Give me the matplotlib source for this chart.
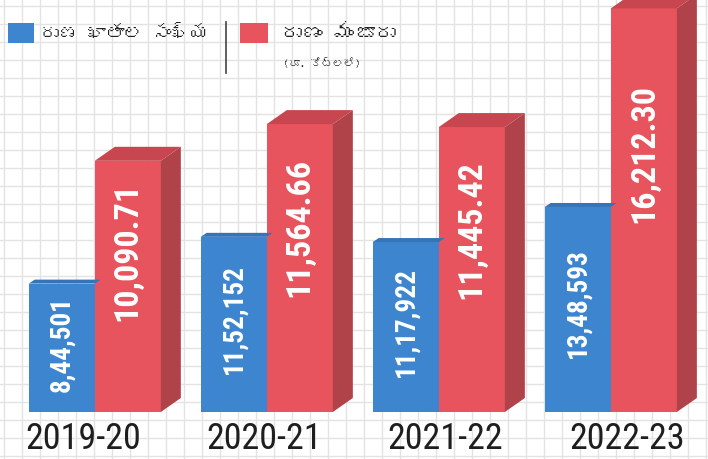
import matplotlib
matplotlib.use("Agg")
import matplotlib.pyplot as plt
from matplotlib import font_manager
from matplotlib.font_manager import FontProperties
from matplotlib.ft2font import FT2Font
from matplotlib.patches import Polygon, Rectangle
import numpy as np

# ---- data ----
years = ["2019-20", "2020-21", "2021-22", "2022-23"]
accounts = [844501, 1152152, 1117922, 1348593]
accounts_labels = ["8,44,501", "11,52,152", "11,17,922", "13,48,593"]
loans = [10090.71, 11564.66, 11445.42, 16212.30]
loans_labels = ["10,090.71", "11,564.66", "11,445.42", "16,212.30"]
legend_accounts = "రుణ ఖాతాల సంఖ్య"
legend_loans = "రుణం మంజూరు"
legend_loans_unit = "(రూ. కోట్లలో)"

# ---- fonts ----
def find_font(codepoint):
    for f in font_manager.fontManager.ttflist:
        try:
            if codepoint in FT2Font(f.fname).get_charmap():
                return f.name
        except Exception:
            pass
    return None

telugu = find_font(0x0C30)
tel_family = [telugu, "DejaVu Sans"] if telugu else ["DejaVu Sans"]

def find_condensed(bold):
    cands = []
    for f in font_manager.fontManager.ttflist:
        fn = f.fname.lower()
        if ("narrow" in fn or "condensed" in fn or f.stretch in ("condensed", "semi-condensed")) \
                and "italic" not in fn and "oblique" not in fn:
            isbold = "bold" in fn or (isinstance(f.weight, int) and f.weight >= 600) or f.weight == "bold"
            if isbold == bold and "semibold" not in fn and "light" not in fn and "extra" not in fn:
                rank = 0 if "liberation" in fn else (1 if "roboto" in fn else (2 if "dejavusans" in fn else 3))
                cands.append((rank, f.fname))
    cands.sort()
    return FontProperties(fname=cands[0][1]) if cands else None

fp_reg = find_condensed(False) or FontProperties(family="Liberation Sans")
fp_bold = find_condensed(True) or FontProperties(family="Liberation Sans", weight="bold")

BLUE = "#3d86cf"
BLUE_TOP = "#3574b8"
RED = "#e8545e"
RED_TOP = "#c8464f"
RED_SIDE = "#b0424a"

W, H, DPI = 708, 459, 100
fig = plt.figure(figsize=(W / DPI, H / DPI), dpi=DPI)
fig.patch.set_facecolor("white")

# grid-paper background
bg = fig.add_axes([0, 0, 1, 1], zorder=0)
bg.set_xlim(0, W)
bg.set_ylim(H, 0)
bg.set_xticks(np.arange(4, W, 18))
bg.set_yticks(np.arange(6, H, 18))
bg.grid(True, color="#e3e3e3", linewidth=1.0)
bg.tick_params(length=0, labelbottom=False, labelleft=False)
for s in bg.spines.values():
    s.set_visible(False)

# main axes: blue bars on left scale, red bars on twin scale
ax = fig.add_axes([0, 1 - 412 / H, 1, 412 / H], zorder=2)
ax.patch.set_alpha(0)
ax2 = ax.twinx()
ax2.patch.set_alpha(0)
for a in (ax, ax2):
    a.set_xlim(-0.551, 3.565)
    a.axis("off")
ax.set_ylim(0, 2.71e6)
ax2.set_ylim(0, 16550)

x = np.arange(len(years))
w = 0.384

ax.bar(x - w / 2, accounts, width=w, color=BLUE, zorder=2)
ax2.bar(x + w / 2, loans, width=w, color=RED, zorder=3)

# pseudo-3D faces
def faces(a, xs, vals, dx, dy, top_col, side_col, z):
    t = a.transData
    for xi, v in zip(xs, vals):
        x0, x1 = xi - w / 2, xi + w / 2
        p = np.array([t.transform((x0, v)), t.transform((x1, v))])
        back = p + np.array([dx, dy])
        fig.add_artist(Polygon(np.vstack([p[0], p[1], back[1], back[0]]), closed=True,
                               transform=None, facecolor=top_col, edgecolor="none", zorder=z))
        if side_col:
            b = t.transform((x1, 0))
            fig.add_artist(Polygon([p[1], b, b + [dx, dy], back[1]], closed=True,
                                   transform=None, facecolor=side_col, edgecolor="none", zorder=z))

fig.canvas.draw()
faces(ax, x - w / 2, accounts, 6, 4, BLUE_TOP, None, 3)
faces(ax2, x + w / 2, loans, 20, 14, RED_TOP, RED_SIDE, 4)

# value labels
for xi, v, lab in zip(x, accounts, accounts_labels):
    ax.text(xi - w / 2, v * 0.53, lab, rotation=90, ha="center", va="center",
            color="white", fontsize=19.5, fontproperties=fp_bold, zorder=5)
for xi, v, lab in zip(x, loans, loans_labels):
    ax2.text(xi + w / 2, v * 0.64, lab, rotation=90, ha="center", va="center",
             color="white", fontsize=24.5, fontproperties=fp_bold, zorder=6)

# year labels
for i, yr in enumerate(years):
    fig.text((83 + 181.3 * i) / W, 1 - 439 / H, yr, ha="center", va="center", fontsize=26,
             color="#1e1e1e", fontproperties=fp_reg)

# legend
fig.add_artist(Rectangle((8 / W, 1 - 43 / H), 26 / W, 20 / H, transform=fig.transFigure,
                         facecolor=BLUE, edgecolor="none"))
fig.text(40 / W, 1 - 33 / H, legend_accounts, ha="left", va="center", fontsize=13.5,
         color="#222222", family=tel_family)
fig.add_artist(plt.Line2D([226 / W, 226 / W], [1 - 22 / H, 1 - 73 / H],
                          transform=fig.transFigure, color="#444444", linewidth=1.2))
fig.add_artist(Rectangle((240 / W, 1 - 43 / H), 28 / W, 20 / H, transform=fig.transFigure,
                         facecolor=RED, edgecolor="none"))
fig.text(281 / W, 1 - 33 / H, legend_loans, ha="left", va="center", fontsize=15,
         color="#222222", family=tel_family)
fig.text(283 / W, 1 - 63 / H, legend_loans_unit, ha="left", va="center", fontsize=8,
         color="#222222", family=tel_family)

fig.savefig("out.png", dpi=DPI, facecolor="white")
